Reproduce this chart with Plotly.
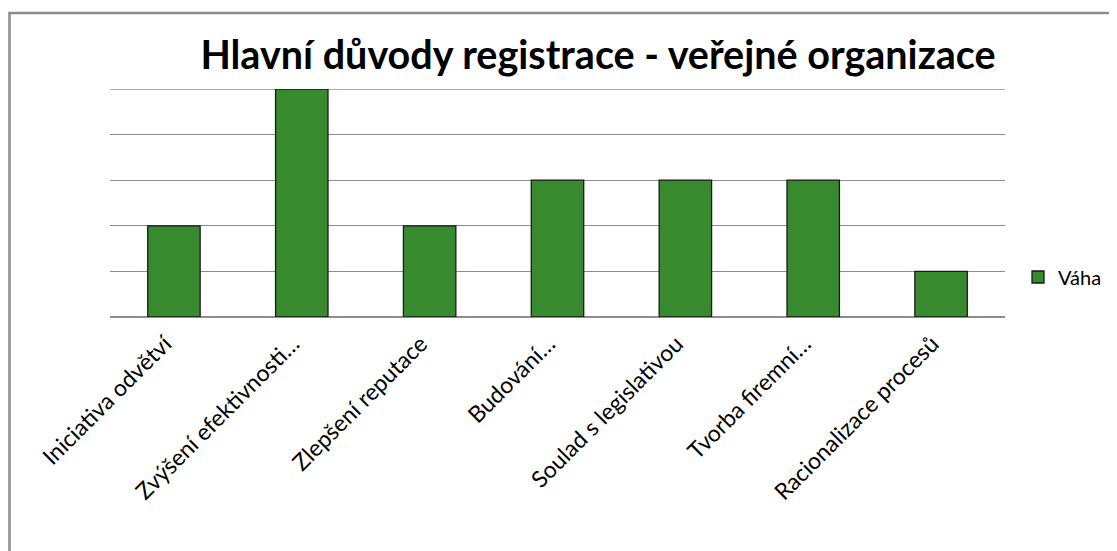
import plotly.graph_objects as go

categories = [
    "Iniciativa odvětví",
    "Zvýšení efektivnosti…",
    "Zlepšení reputace",
    "Budování…",
    "Soulad s legislativou",
    "Tvorba firemní…",
    "Racionalizace procesů",
]
vaha = [2, 5, 2, 3, 3, 3, 1]

# the page adds an 8px body margin, so lay out in page pixels minus that
OFF = 8
W, H = 1117 - OFF, 551 - OFF
L, R, T, B = 110 - OFF, 112, 89 - OFF, 234
pw, ph = W - L - R, H - T - B
base = H - B  # baseline in figure px


def px_x(x):
    return (x - OFF - L) / pw


def px_y(y):
    return (base - (y - OFF)) / ph


fig = go.Figure()
fig.add_trace(go.Bar(
    x=categories, y=vaha, name="Váha",
    marker=dict(color="#378b2e", line=dict(color="#1a1a1a", width=1.3)),
    showlegend=True,
))

# outer chart border (runs off the right/bottom edges like the original)
fig.add_shape(type="rect", xref="paper", yref="paper",
              x0=px_x(9.5), x1=px_x(1140), y0=px_y(570), y1=px_y(13),
              line=dict(color="#8c8c8c", width=2.5), layer="below")
# top gridline sits on the range edge, plotly skips it
fig.add_shape(type="line", xref="paper", yref="y", x0=0, x1=1, y0=5, y1=5,
              line=dict(color="#8c8c8c", width=1.3), layer="below")

fig.update_layout(
    width=W, height=H,
    margin=dict(l=L, r=R, t=T, b=B, autoexpand=False),
    paper_bgcolor="white", plot_bgcolor="white",
    font=dict(family="Lato, Open Sans, sans-serif", color="black"),
    title=dict(text="<b>Hlavní důvody registrace - veřejné organizace</b>",
               x=(598 - OFF) / W, y=1 - (55 - OFF) / H, xanchor="center", yanchor="middle",
               font=dict(size=39.5, family="Lato, Open Sans, sans-serif")),
    bargap=0.59,
    showlegend=True,
    legend=dict(x=px_x(1018), y=px_y(277), xanchor="left", yanchor="middle",
                font=dict(size=20), itemwidth=30, bgcolor="rgba(0,0,0,0)"),
    xaxis=dict(tickangle=-45, tickfont=dict(size=23), showgrid=False,
               showline=False, ticks="", ticklabelstandoff=8, ticklabelshift=-9),
    yaxis=dict(range=[0, 5], dtick=1, showticklabels=False, showgrid=True,
               gridcolor="#8c8c8c", gridwidth=1.3, zeroline=True,
               zerolinecolor="#8c8c8c", zerolinewidth=2, showline=False),
)

fig.write_html("out.html")
